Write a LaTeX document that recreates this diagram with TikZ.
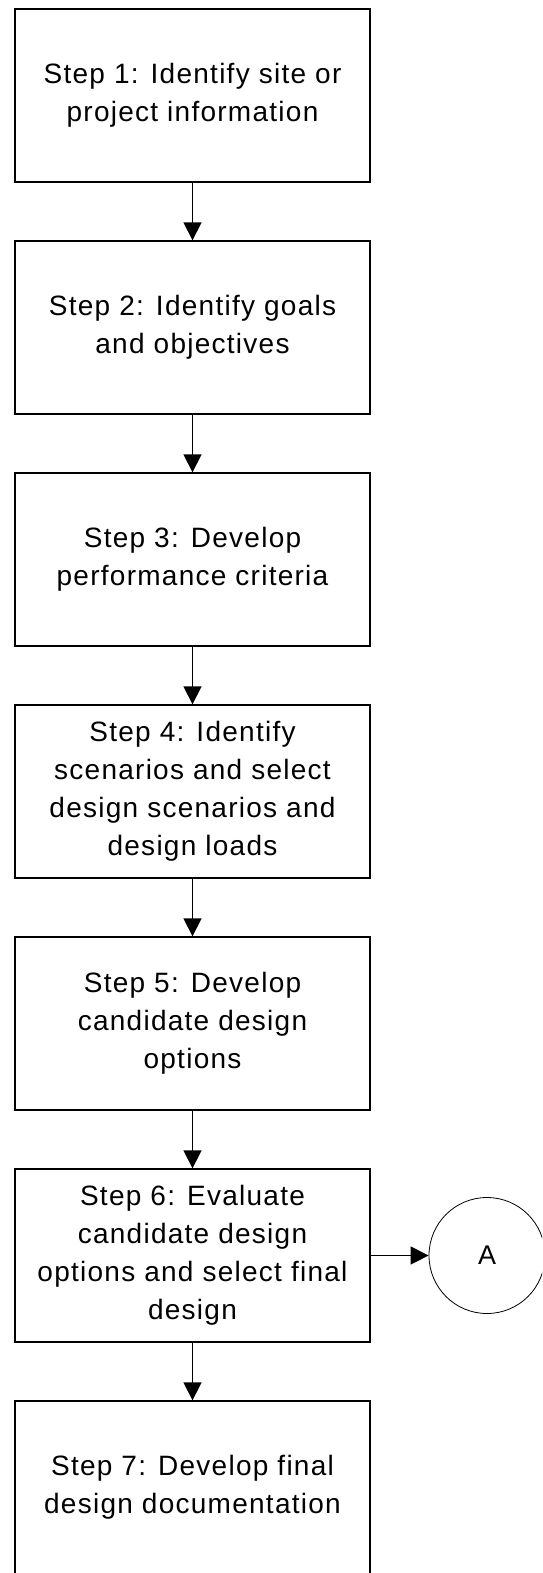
\documentclass[tikz,border=0pt]{standalone}
\usepackage{fontspec}
\setmainfont{Liberation Sans}[LetterSpace=4.5]
\usetikzlibrary{arrows.meta}
\begin{document}
\begin{tikzpicture}[x=1pt,y=-1pt,
  stepbox/.style={draw, line width=1.3pt, minimum width=355pt, minimum height=173pt,
    align=center, inner sep=0pt, font=\fontsize{28}{38}\selectfont},
  flow/.style={line width=1.3pt, -{Triangle[length=18pt,width=18pt]}},
  connector/.style={draw, circle, line width=0.8pt, minimum size=116pt, inner sep=0pt,
    font=\fontsize{27}{37.5}\selectfont}]
\useasboundingbox (0,0) rectangle (542,1573);
\clip (0,0) rectangle (542,1573);

% process steps, one box every 232pt
\node[stepbox] (s1) at (192.5,95.5)  {Step 1: Identify site or\\project information};
\node[stepbox] (s2) at (192.5,327.5) {Step 2: Identify goals\\and objectives};
\node[stepbox] (s3) at (192.5,559.5) {Step 3: Develop\\performance criteria};
\node[stepbox] (s4) at (192.5,791.5) {Step 4: Identify\\scenarios and select\\design scenarios and\\design loads};
\node[stepbox] (s5) at (192.5,1023.5) {Step 5: Develop\\candidate design\\options};
\node[stepbox] (s6) at (192.5,1255.5) {Step 6: Evaluate\\candidate design\\options and select final\\design};
\node[stepbox] (s7) at (192.5,1487.5) {Step 7: Develop final\\design documentation};

% off-page connector
\node[connector] (a) at (487,1255.5) {A};

% flow between the steps
\draw[flow] (s1) -- (s2);
\draw[flow] (s2) -- (s3);
\draw[flow] (s3) -- (s4);
\draw[flow] (s4) -- (s5);
\draw[flow] (s5) -- (s6);
\draw[flow] (s6) -- (s7);
\draw[flow] (s6) -- (a);
\end{tikzpicture}
\end{document}
